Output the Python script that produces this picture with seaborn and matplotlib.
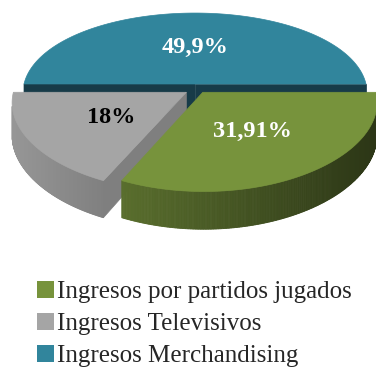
import numpy as np
import matplotlib
matplotlib.use("Agg")
import matplotlib.pyplot as plt
import seaborn as sns
from matplotlib.patches import Polygon, Patch

# Revenue shares (%), in drawing order clockwise from 3 o'clock
categories = ["Ingresos por partidos jugados", "Ingresos Televisivos", "Ingresos Merchandising"]
shares = [31.91, 18, 49.9]
slice_colors = ["#77933C", "#A5A5A5", "#31859C"]

sns.set_theme(style="white")
plt.rcParams["font.family"] = ["Liberation Serif", "DejaVu Serif"]
palette = sns.color_palette(slice_colors)

# Perspective model of the 3D disc (pixel layout of the canvas)
CX, CY = 195.0, 84.0     # centre of the top face
A, B = 171.0, 81.6       # horizontal / depth radii
D = 31.5                 # thickness of the disc
KX, KY = 0.114, 0.15     # perspective strength (horizontal / vertical)
CAM_Z = -1.0 / KY

# per-slice displacement (x, z) of the exploded wedges
offsets = [(0.045, -0.10), (-0.05, -0.10), (0.0, 0.0)]
label_colors = ["white", "black", "white"]


def proj(X, Z, depth=0.0):
    wx = 1.0 + KX * Z
    wy = 1.0 + KY * Z
    return CX + A * X / wx, CY + (-B * Z + D * depth) / wy


def shade(rgb, x):
    f = np.clip(0.93 - 0.0015 * x, 0.3, 1.0)
    return tuple(np.clip(np.array(rgb) * f, 0, 1))


fig = plt.figure(figsize=(3.76, 3.67), dpi=100)
ax = fig.add_axes([0, 0, 1, 1])
ax.set_xlim(0, 376)
ax.set_ylim(367, 0)
ax.axis("off")

fractions = np.array(shares) / np.sum(shares)
starts = np.concatenate([[0.0], -np.cumsum(fractions)[:-1] * 360.0])
ends = starts - fractions * 360.0

slices = list(range(len(shares)))
draw_order = [2, 1, 0]   # back wedge first

for i in draw_order:
    col = palette[i]
    ox, oz = offsets[i]
    t = np.radians(np.linspace(starts[i], ends[i], 240))

    # outer curved wall, split into thin shaded strips
    for a0, a1 in zip(t[:-1], t[1:]):
        am = 0.5 * (a0 + a1)
        px, pz = ox + np.cos(am), oz + np.sin(am)
        if np.cos(am) * (0 - px) + np.sin(am) * (CAM_Z - pz) <= 0:
            continue
        pts = [proj(ox + np.cos(a0), oz + np.sin(a0), 0),
               proj(ox + np.cos(a1), oz + np.sin(a1), 0),
               proj(ox + np.cos(a1), oz + np.sin(a1), 1),
               proj(ox + np.cos(a0), oz + np.sin(a0), 1)]
        c = shade(col, np.mean([p[0] for p in pts]))
        ax.add_patch(Polygon(pts, closed=True, facecolor=c, edgecolor=c, lw=0.6))

    # flat cut faces (radial edges)
    for ang, sgn in ((starts[i], 1), (ends[i], -1)):
        a = np.radians(ang)
        nx, nz = np.cos(a + sgn * np.pi / 2), np.sin(a + sgn * np.pi / 2)
        if nx * (0 - ox) + nz * (CAM_Z - oz) <= 0:
            continue
        pts = [proj(ox, oz, 0), proj(ox + np.cos(a), oz + np.sin(a), 0),
               proj(ox + np.cos(a), oz + np.sin(a), 1), proj(ox, oz, 1)]
        if i == 2:
            c = "#173B48"
        else:
            c = shade(col, 0.5 * (pts[0][0] + pts[1][0]) - 40)
        ax.add_patch(Polygon(pts, closed=True, facecolor=c, edgecolor=c, lw=0.5))

    # top face
    top = [proj(ox, oz, 0)] + [proj(ox + np.cos(a), oz + np.sin(a), 0) for a in t]
    ax.add_patch(Polygon(top, closed=True, facecolor=col, edgecolor=col, lw=0.5))

    # value label
    mid = np.radians(0.5 * (starts[i] + ends[i]))
    lx, ly = proj(ox + 0.5 * np.cos(mid), oz + 0.5 * np.sin(mid), 0)
    txt = f"{shares[i]:g}".replace(".", ",") + "%"
    ax.text(lx, ly + 1.5, txt, ha="center", va="center", fontsize=17.5,
            fontweight="bold", color=label_colors[i])

handles = [Patch(facecolor=palette[i], edgecolor="none", label=categories[i]) for i in slices]
ax.legend(handles=handles, loc="upper left", bbox_to_anchor=(37 / 376, 1 - 281 / 367),
          frameon=False, fontsize=18, handlelength=0.68, handleheight=0.68,
          handletextpad=0.12, labelspacing=0.38, borderaxespad=0, borderpad=0)

fig.savefig("out.png", dpi=100)
